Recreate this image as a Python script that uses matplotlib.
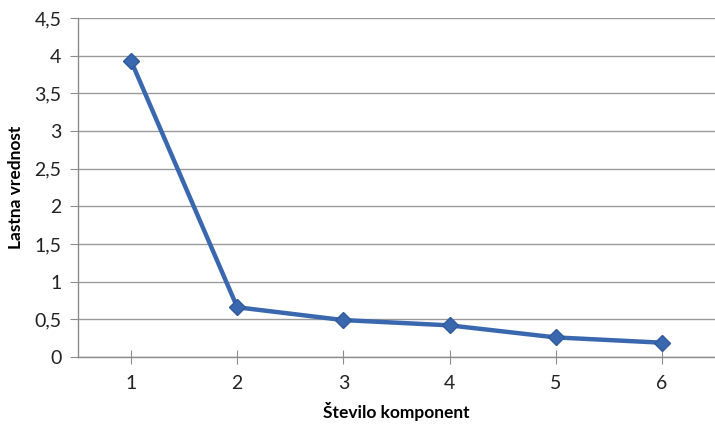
import matplotlib
matplotlib.use("Agg")
import matplotlib.pyplot as plt
from matplotlib.ticker import FuncFormatter, MultipleLocator

# Eigenvalues per component (scree plot)
components = [1, 2, 3, 4, 5, 6]
eigenvalues = [3.93, 0.66, 0.49, 0.42, 0.26, 0.19]

x_label = "Število komponent"
y_label = "Lastna vrednost"

plt.rcParams["font.family"] = ["Lato", "DejaVu Sans"]

fig = plt.figure(figsize=(7.15, 4.29), dpi=100)
ax = fig.add_axes([78 / 715, 1 - 357 / 429, (715 - 78) / 715, (357 - 18) / 429])

ax.plot(components, eigenvalues, color="#3A68AE", linewidth=3.2,
        marker="D", markersize=8, markerfacecolor="#3A68AE",
        markeredgecolor="#2F5A9C", zorder=3)

ax.set_xlim(0.5, 6.5)
ax.set_ylim(0, 4.5)
ax.yaxis.set_major_locator(MultipleLocator(0.5))
ax.set_xticks(components)
ax.yaxis.set_major_formatter(FuncFormatter(
    lambda v, p: ("%g" % v).replace(".", ",")))

ax.grid(axis="y", color="#9A9A9A", linewidth=1.0)
ax.set_axisbelow(True)
for side in ("top", "right"):
    ax.spines[side].set_visible(False)
for side in ("left", "bottom"):
    ax.spines[side].set_color("#8C8C8C")
    ax.spines[side].set_linewidth(1.0)

ax.tick_params(axis="y", direction="out", length=6, color="#8C8C8C",
               labelsize=14, labelcolor="#222222", pad=6)
ax.tick_params(axis="x", direction="inout", length=10, color="#8C8C8C",
               labelsize=14, labelcolor="#222222", pad=8)

ax.set_xlabel(x_label, fontsize=12.5, fontweight="bold", labelpad=7)
ax.set_ylabel(y_label, fontsize=12.5, fontweight="bold", labelpad=7)

fig.savefig("out.png", dpi=100, facecolor="white")
